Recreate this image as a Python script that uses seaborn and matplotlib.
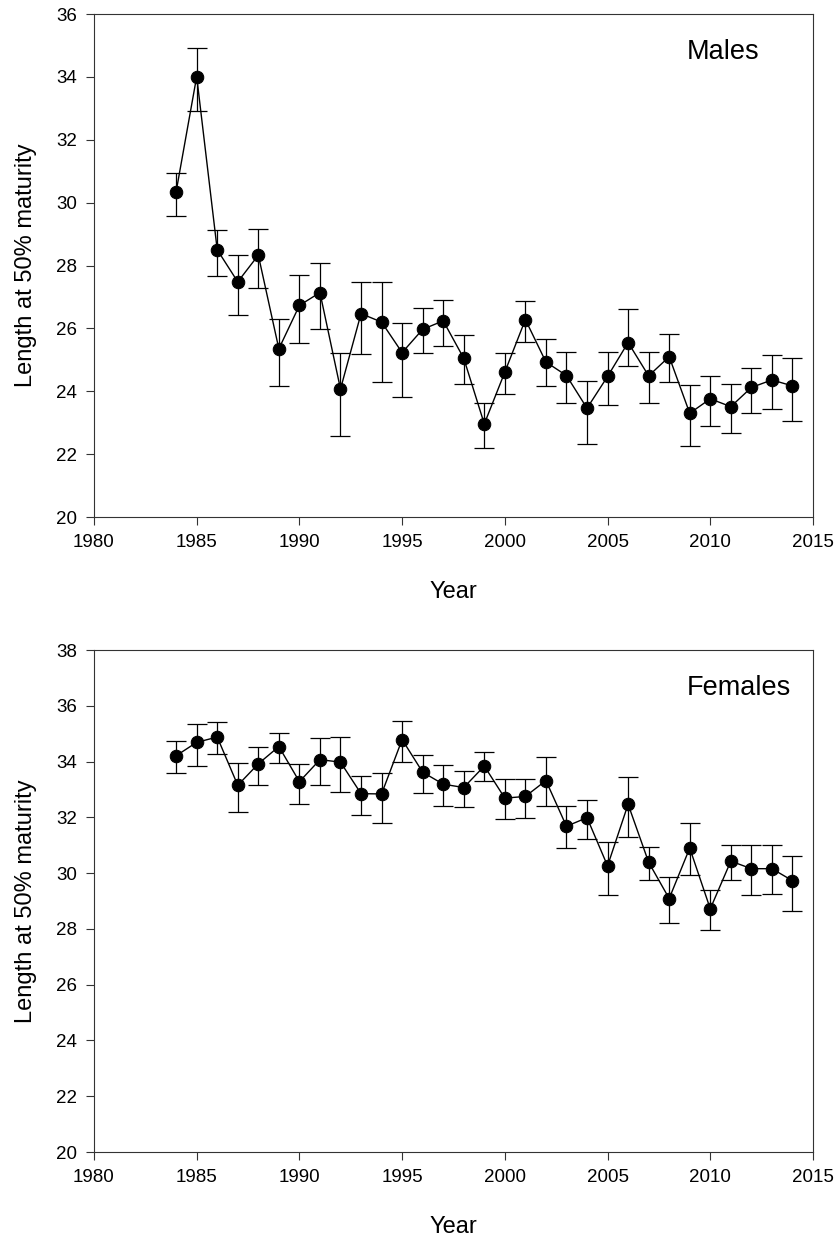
import matplotlib
matplotlib.use("Agg")
import matplotlib.pyplot as plt
import pandas as pd
import seaborn as sns


# ==================================
# DATA
# ==================================

years = list(range(1984, 2015))

male_len = [30.35, 34.01, 28.50, 27.48, 28.33, 25.35, 26.73, 27.14, 24.07, 26.47,
            26.20, 25.23, 25.97, 26.24, 25.05, 22.96, 24.61, 26.28, 24.93, 24.50,
            23.46, 24.47, 25.55, 24.49, 25.10, 23.30, 23.76, 23.51, 24.12, 24.36,
            24.17]
male_hi = [30.94, 34.93, 29.13, 28.34, 29.15, 26.30, 27.71, 28.07, 25.23, 27.48,
           27.48, 26.16, 26.66, 26.90, 25.79, 23.64, 25.21, 26.87, 25.66, 25.25,
           24.34, 25.24, 26.63, 25.24, 25.81, 24.19, 24.49, 24.22, 24.75, 25.14,
           25.07]
male_lo = [29.59, 32.92, 27.67, 26.44, 27.30, 24.18, 25.52, 25.98, 22.59, 25.17,
           24.30, 23.81, 25.21, 25.44, 24.24, 22.19, 23.92, 25.57, 24.17, 23.62,
           22.32, 23.55, 24.79, 23.62, 24.29, 22.26, 22.90, 22.67, 23.30, 23.43,
           23.04]

female_len = [34.21, 34.69, 34.88, 33.15, 33.92, 34.54, 33.28, 34.07, 33.98, 32.85,
              32.84, 34.79, 33.62, 33.19, 33.07, 33.84, 32.69, 32.75, 33.32, 31.68,
              31.99, 30.26, 32.47, 30.39, 29.09, 30.90, 28.72, 30.43, 30.16, 30.16,
              29.73]
female_hi = [34.73, 35.34, 35.41, 33.96, 34.54, 35.01, 33.93, 34.86, 34.88, 33.49,
             33.58, 35.47, 34.25, 33.86, 33.68, 34.36, 33.36, 33.39, 34.17, 32.39,
             32.64, 31.13, 33.43, 30.93, 29.87, 31.79, 29.39, 31.01, 31.00, 31.00,
             30.61]
female_lo = [33.58, 33.83, 34.27, 32.20, 33.16, 33.95, 32.47, 33.16, 32.91, 32.10,
             31.79, 34.00, 32.88, 32.41, 32.38, 33.32, 31.95, 31.99, 32.40, 30.91,
             31.24, 29.20, 31.31, 29.76, 28.23, 29.93, 27.96, 29.76, 29.20, 29.24,
             28.66]

x_ticks = list(range(1980, 2016, 5))


# ==================================
# STYLE
# ==================================

sns.set_style("ticks")
plt.rcParams["font.family"] = ["Liberation Sans", "DejaVu Sans"]
plt.rcParams["text.color"] = "black"
plt.rcParams["axes.labelcolor"] = "black"
plt.rcParams["axes.edgecolor"] = "#333333"
plt.rcParams["axes.linewidth"] = 0.8
plt.rcParams["xtick.color"] = "#333333"
plt.rcParams["ytick.color"] = "#333333"
plt.rcParams["xtick.labelcolor"] = "black"
plt.rcParams["ytick.labelcolor"] = "black"


def draw_panel(ax, length, lo, hi, label, y_max):
    df = pd.DataFrame({"Year": years, "Length": length})

    err_lo = [v - l for v, l in zip(length, lo)]
    err_hi = [h - v for v, h in zip(length, hi)]
    ax.errorbar(years, length, yerr=[err_lo, err_hi], fmt="none",
                ecolor="black", elinewidth=0.9, capsize=7, capthick=0.9,
                zorder=2)

    sns.lineplot(data=df, x="Year", y="Length", ax=ax, color="black",
                 linewidth=1.0, marker="o", markersize=9,
                 markeredgecolor="black", markerfacecolor="black", zorder=3)

    ax.set_xlim(1980, 2015)
    ax.set_ylim(20, y_max)
    ax.set_xticks(x_ticks)
    ax.set_yticks(list(range(20, y_max + 1, 2)))
    ax.tick_params(direction="out", length=6, width=0.8, labelsize=13.5, pad=6)

    ax.set_xlabel("Year", fontsize=17, labelpad=22)
    ax.set_ylabel("Length at 50% maturity", fontsize=17, labelpad=14)

    ax.text(0.825, 0.924, label, transform=ax.transAxes, ha="left",
            va="center", fontsize=19.5, color="black")

    for s in ax.spines.values():
        s.set_visible(True)


fig = plt.figure(figsize=(8.39, 12.41), dpi=100)

ax1 = fig.add_axes([0.112, 0.5834, 0.857, 0.4053])
ax2 = fig.add_axes([0.112, 0.0717, 0.857, 0.4045])

draw_panel(ax1, male_len, male_lo, male_hi, "Males", 36)
draw_panel(ax2, female_len, female_lo, female_hi, "Females", 38)

fig.savefig("out.png", dpi=100)
print("Saved: out.png")
